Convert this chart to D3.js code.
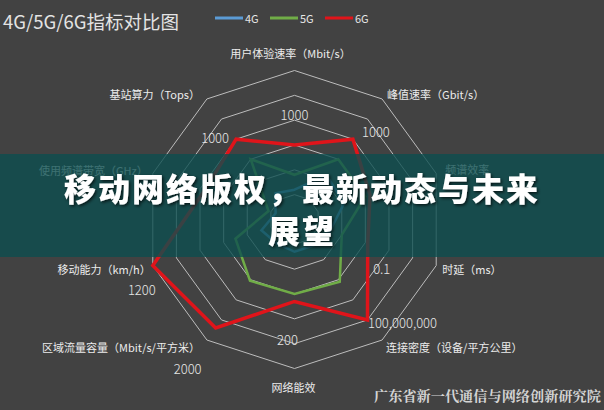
<!DOCTYPE html>
<html>
<head>
<meta charset="utf-8">
<script src="https://cdn.jsdelivr.net/npm/d3@7"></script>
<style>
html,body{margin:0;padding:0;background:#424242;}
svg{display:block;}
</style>
</head>
<body>
<svg id="chart" width="604" height="410"></svg>
<script>
// ---- data ----
const axesNames = ["用户体验速率（Mbit/s）", "峰值速率（Gbit/s）", "频谱效率", "时延（ms）", "连接密度（设备/平方公里）", "网络能效", "区域流量容量（Mbit/s/平方米）", "移动能力（km/h）", "使用频谱带宽（GHz）", "基站算力（Tops）"];
const seriesNames = ["4G", "5G", "6G"];
const values4G = [1.2, 2.2, 2.1, 1.5, 1.3, 1.3, 1.2, 1.4, 0.8, 1.3];
const values5G = [1.8, 3.0, 3.0, 2.0, 3.1, 3.0, 3.05, 2.5, 1.1, 3.0];
const values6G = [3.0, 4.0, 3.2, 3.1, 5.0, 3.3, 5.4, 6.0, 3.8, 4.0];
const tickLabels = ["1000", "1000", "", "0.1", "100,000,000", "200", "2000", "1200", "", "1000"];
const gridLevels = [1, 2, 3, 4, 5, 6];
const titleText = "4G/5G/6G指标对比图";
const bannerLines = ["移动网络版权，最新动态与未来", "展望"];
const watermark = "广东省新一代通信与网络创新研究院";

// ---- layout ----
const W = 604, H = 410;
const cx = 294.5, cy = 219.5;
const colors = {"4G": "#5b9bd5", "5G": "#70ad47", "6G": "#e0141a"};
const widths = {"4G": 2.5, "5G": 2.5, "6G": 3.5};
const seriesData = {"4G": values4G, "5G": values5G, "6G": values6G};
// label offsets from outer vertex [dx, dy, anchor]
const labelOff = [[-4,-18,"middle"],[5,-5,"start"],[9,-4,"start"],[6,3.5,"start"],[4,7,"start"],[-1,18.5,"middle"],[-7,7,"end"],[-2,3.5,"end"],[-5,-3,"end"],[-7,-5,"end"]];
// tick label offsets from 6G vertex
const tickOff = [[0,-31],[23,-8],[0,0],[14,25],[35,3],[-7,38],[-28,41],[-11,24],[0,0],[-21,-2]];

const svg = d3.select("#chart");
const r = d3.scaleLinear().domain([0, 6]).range([0, 149]);
const n = axesNames.length;
const ang = d3.scaleLinear().domain([0, n]).range([0, 2 * Math.PI]);
const pt = (i, v) => [cx + r(v) * Math.sin(ang(i)), cy - r(v) * Math.cos(ang(i))];

const g = svg.append("g");
g.append("rect").attr("width", W).attr("height", H).attr("fill", "#424242");

// grid
const radial = d3.lineRadial().angle((d, i) => ang(i)).radius(d => r(d)).curve(d3.curveLinearClosed);
const gridG = g.append("g").attr("transform", `translate(${cx},${cy})`);
gridLevels.forEach(l => {
  gridG.append("path").attr("d", radial(d3.range(n).map(() => l)))
    .attr("fill", "none").attr("stroke", "#bdbdbd").attr("stroke-width", 1);
});

// series
seriesNames.forEach(s => {
  gridG.append("path").attr("d", radial(seriesData[s]))
    .attr("fill", "none").attr("stroke", colors[s]).attr("stroke-width", widths[s])
    .attr("stroke-linejoin", "miter");
});

// axis labels
axesNames.forEach((name, i) => {
  const p = pt(i, 6);
  g.append("text").attr("x", p[0] + labelOff[i][0]).attr("y", p[1] + labelOff[i][1])
    .attr("text-anchor", labelOff[i][2]).attr("dominant-baseline", "central")
    .attr("font-family", "'Noto Sans CJK SC', sans-serif").attr("font-size", 11)
    .attr("fill", "#ececec").text(name);
});

// tick labels
tickLabels.forEach((t, i) => {
  if (!t) return;
  const p = pt(i, values6G[i]);
  g.append("text").attr("x", p[0] + tickOff[i][0]).attr("y", p[1] + tickOff[i][1])
    .attr("text-anchor", "middle").attr("dominant-baseline", "central")
    .attr("font-family", "'Noto Sans CJK SC', sans-serif").attr("font-weight", 300).attr("font-size", 13)
    .attr("fill", "#e6e6e6").text(t);
});

// title
g.append("text").attr("x", 3).attr("y", 21).attr("dominant-baseline", "central")
  .attr("font-family", "'Noto Sans CJK SC', sans-serif").attr("font-size", 18.5)
  .attr("fill", "#e4e4e4").text(titleText);

// legend
const legX = d3.scaleOrdinal().domain(seriesNames).range([215, 270, 325]);
seriesNames.forEach(s => {
  const x = legX(s);
  g.append("line").attr("x1", x).attr("x2", x + 28).attr("y1", 18).attr("y2", 18)
    .attr("stroke", colors[s]).attr("stroke-width", 3);
  g.append("text").attr("x", x + 30).attr("y", 18).attr("dominant-baseline", "central")
    .attr("font-family", "'Noto Sans CJK SC', sans-serif").attr("font-size", 11)
    .attr("fill", "#e6e6e6").text(s);
});

// banner overlay
const defs = svg.append("defs");
const f = defs.append("filter").attr("id", "sh").attr("x", "-10%").attr("y", "-30%").attr("width", "120%").attr("height", "160%");
f.append("feDropShadow").attr("dx", 1.5).attr("dy", 1.5).attr("stdDeviation", 1.5).attr("flood-color", "#000").attr("flood-opacity", 0.7);
svg.append("rect").attr("x", 0).attr("y", 154).attr("width", W).attr("height", 103)
  .attr("fill", "rgb(12,78,80)").attr("fill-opacity", 0.78);
bannerLines.forEach((t, i) => {
  svg.append("text").attr("x", 302).attr("y", 187 + i * 42).attr("text-anchor", "middle")
    .attr("dominant-baseline", "central").attr("font-family", "'Noto Sans CJK SC', sans-serif")
    .attr("font-weight", 900).attr("font-size", 32).attr("letter-spacing", 2)
    .attr("fill", "#ffffff").attr("filter", "url(#sh)").text(t);
});

// watermark
svg.append("text").attr("x", 601).attr("y", 395).attr("text-anchor", "end").attr("dominant-baseline", "central")
  .attr("font-family", "'Noto Serif CJK SC', 'Noto Sans CJK SC', serif").attr("font-weight", 700).attr("font-size", 14.2)
  .attr("fill", "#d4d4d4").text(watermark);
</script>
</body>
</html>
